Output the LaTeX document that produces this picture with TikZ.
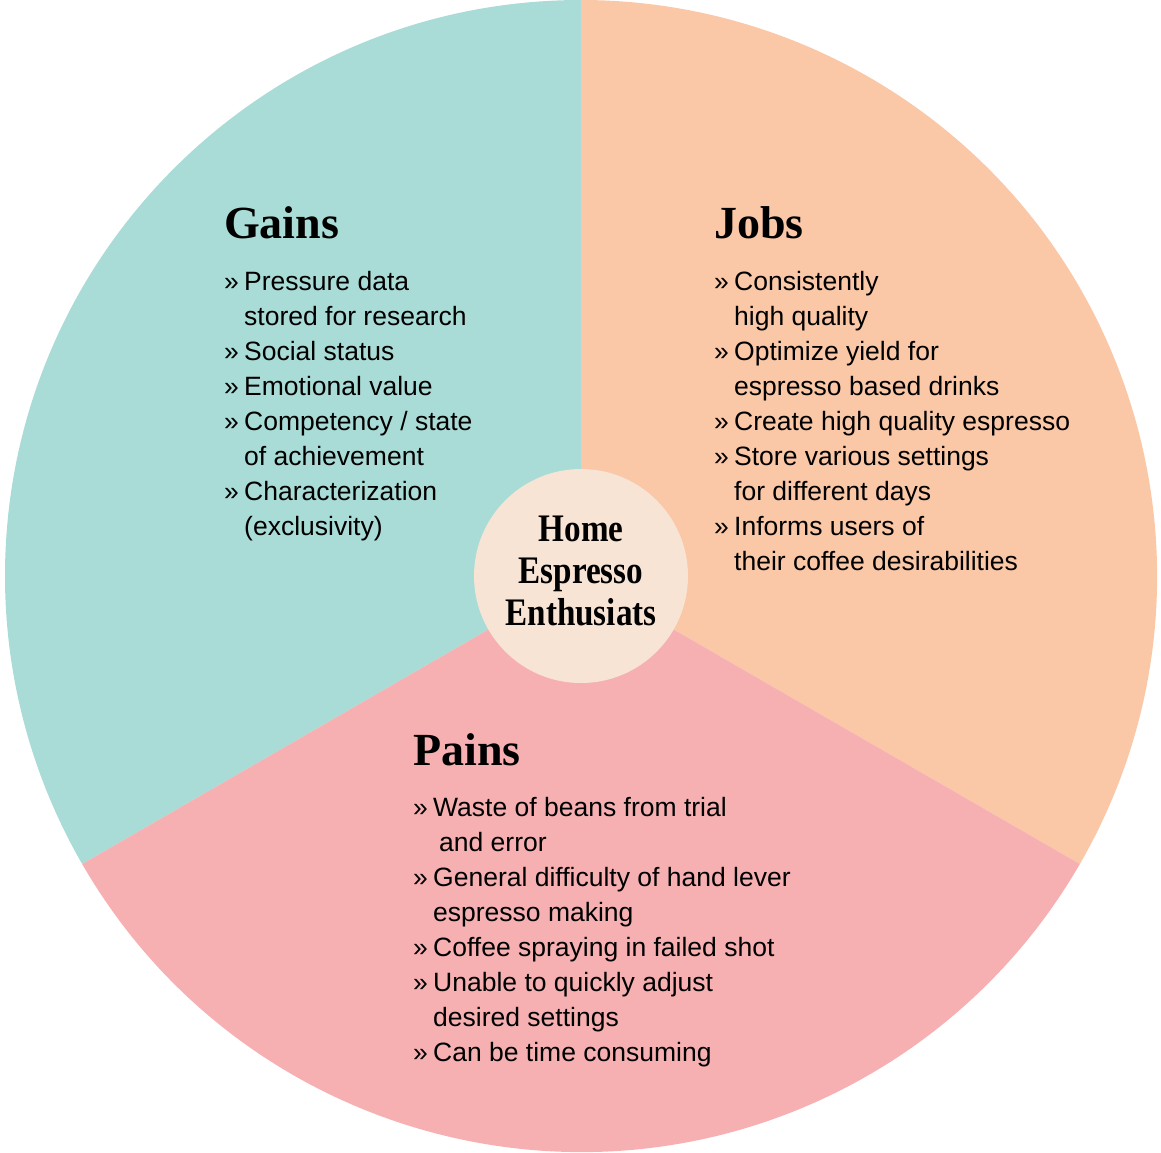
\documentclass[tikz,border=0pt]{standalone}
\usepackage{fontspec}
\setmainfont{Liberation Sans}
\newfontfamily\titlefont{Liberation Serif}
\definecolor{gainsc}{RGB}{169,220,214}
\definecolor{jobsc}{RGB}{250,199,167}
\definecolor{painsc}{RGB}{246,176,178}
\definecolor{hubc}{RGB}{247,228,212}
\newcommand\bul{\makebox[20pt][l]{»}}
\newcommand\ind{\hspace*{20pt}}
\newcommand\hubline[1]{\scalebox{0.85}[1]{#1}}
\tikzset{
  titletext/.style={anchor=base west, inner sep=0pt, font=\titlefont\bfseries\fontsize{46}{50}\selectfont},
  itemtext/.style={anchor=base west, inner sep=0pt, align=left, font=\fontsize{26.5}{35}\selectfont},
  hubtext/.style={inner sep=0pt, align=center, font=\titlefont\bfseries\fontsize{39}{42}\selectfont},
}
\begin{document}
\begin{tikzpicture}[x=1pt,y=1pt]
\useasboundingbox (0,0) rectangle (1161,-1152);
\coordinate (C) at (581,-576);
\fill[gainsc] (C) -- ++(90:576) arc[start angle=90,end angle=210,radius=576] -- cycle;
\fill[jobsc] (C) -- ++(-30:576) arc[start angle=-30,end angle=90,radius=576] -- cycle;
\fill[painsc] (C) -- ++(210:576) arc[start angle=210,end angle=330,radius=576] -- cycle;
\node[circle, fill=hubc, minimum size=214pt, inner sep=0pt] (hub) at (C) {};
\node[hubtext] (hublabel) at (581,-571) {\hubline{Home}\\\hubline{Espresso}\\\hubline{Enthusiats}};

\node[titletext] (gainst) at (224,-238) {Gains};
\node[itemtext] (gainsl) at (224,-535) {\bul Pressure data\\\ind stored for research\\\bul Social status\\\bul Emotional value\\\bul Competency / state\\\ind of achievement\\\bul Characterization\\\ind (exclusivity)};

\node[titletext] (jobst) at (714,-238) {Jobs};
\node[itemtext] (jobsl) at (714,-570) {\bul Consistently\\\ind high quality\\\bul Optimize yield for\\\ind espresso based drinks\\\bul Create high quality espresso\\\bul Store various settings\\\ind for different days\\\bul Informs users of\\\ind their coffee desirabilities};

\node[titletext] (painst) at (413,-765) {Pains};
\node[itemtext] (painsl) at (413,-1061) {\bul Waste of beans from trial\\\hspace*{26pt}and error\\\bul General difficulty of hand lever\\\ind espresso making\\\bul Coffee spraying in failed shot\\\bul Unable to quickly adjust\\\ind desired settings\\\bul Can be time consuming};
\end{tikzpicture}
\end{document}
